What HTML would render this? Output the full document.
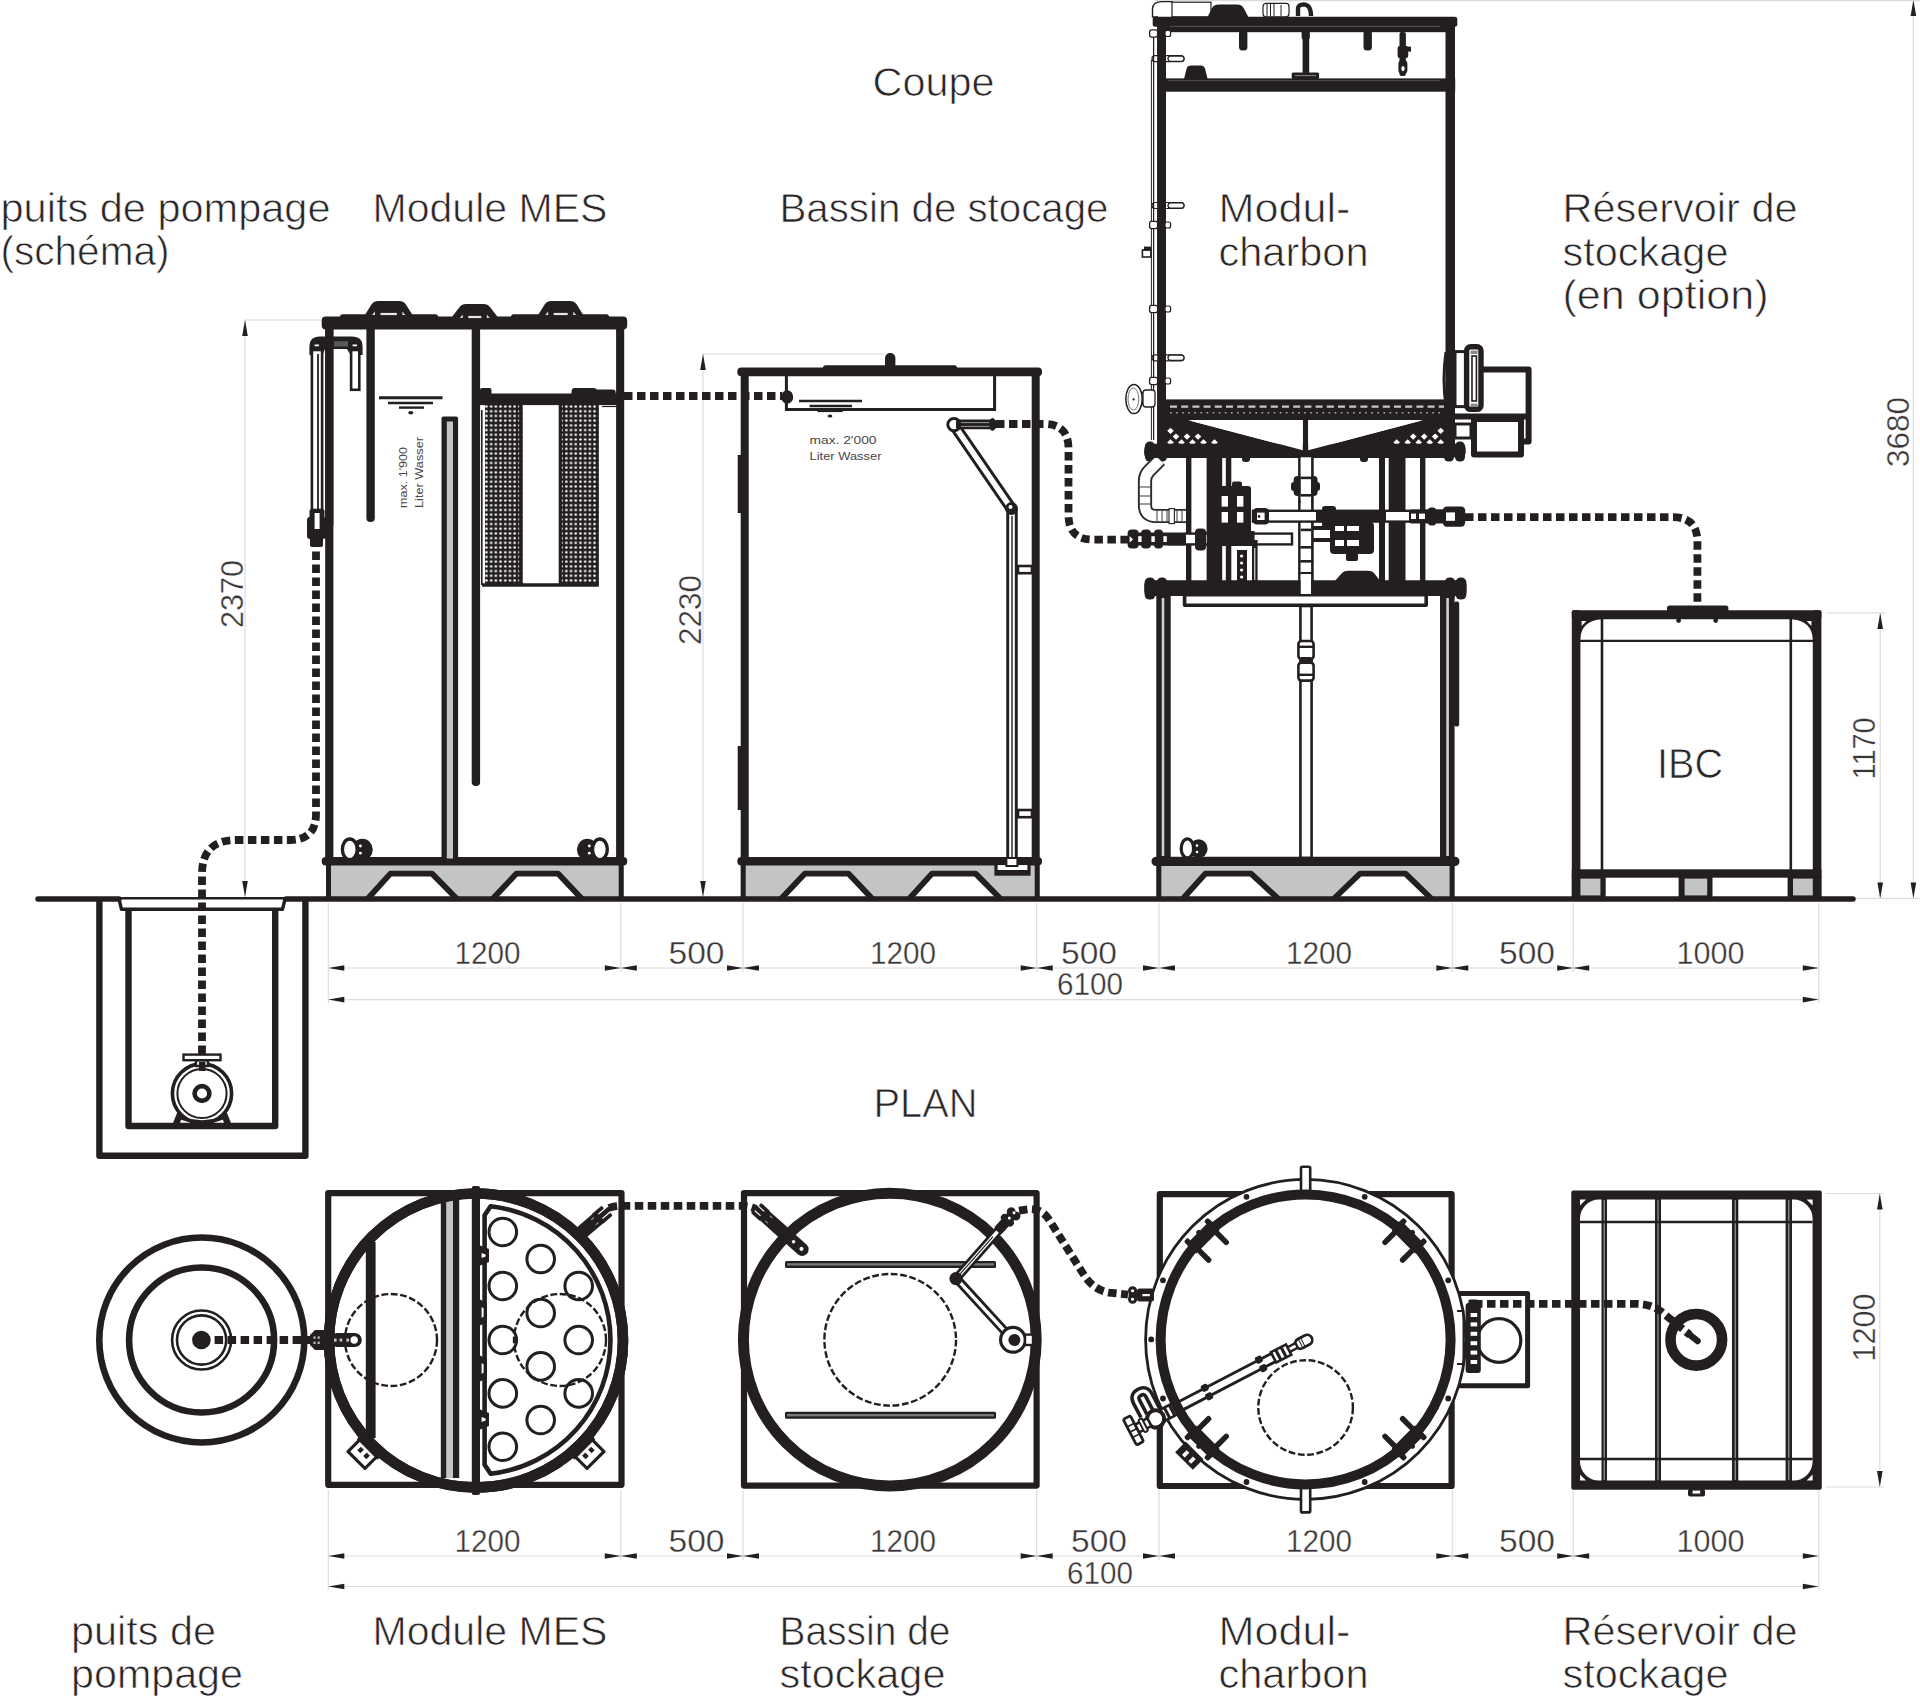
<!DOCTYPE html>
<html lang="fr"><head><meta charset="utf-8"><title>Coupe / Plan</title>
<style>
html,body{margin:0;padding:0;background:#fff}
svg{display:block}
text{font-family:"Liberation Sans",sans-serif;fill:#231f20}
.lbl{font-size:41px;fill:#2a2627;stroke:#fff;stroke-width:.75px}
.dim{font-size:31.5px;fill:#3a3637;stroke:#fff;stroke-width:.35px}
.k{fill:#231f20}
.s{fill:none;stroke:#231f20}
.w{fill:#fff;stroke:#231f20}
.g{fill:#c3c4c6;stroke:#231f20}
.dot{fill:none;stroke:#231f20;stroke-width:7.8;stroke-dasharray:8.5 4.5}
.dl{stroke:#dcdcdc;stroke-width:1.2;fill:none}
</style></head><body>
<svg width="1920" height="1702" viewBox="0 0 1920 1702">
<defs>
<pattern id="mesh" width="4.7" height="4.7" patternUnits="userSpaceOnUse"><rect width="4.7" height="4.7" fill="#231f20"/><circle cx="2.35" cy="2.35" r="1.25" fill="#fff"/></pattern>
</defs>
<rect width="1920" height="1702" fill="#fff"/>
<text class="lbl" x="872.5" y="96" textLength="122" lengthAdjust="spacingAndGlyphs">Coupe</text>
<text class="lbl" x="0.5" y="222" textLength="330" lengthAdjust="spacingAndGlyphs">puits de pompage</text>
<text class="lbl" x="0.5" y="265" textLength="169" lengthAdjust="spacingAndGlyphs">(schéma)</text>
<text class="lbl" x="372.5" y="222" textLength="235" lengthAdjust="spacingAndGlyphs">Module MES</text>
<text class="lbl" x="779.5" y="222" textLength="329" lengthAdjust="spacingAndGlyphs">Bassin de stocage</text>
<text class="lbl" x="1218.5" y="222" textLength="132" lengthAdjust="spacingAndGlyphs">Modul-</text>
<text class="lbl" x="1218.5" y="265.5" textLength="150" lengthAdjust="spacingAndGlyphs">charbon</text>
<text class="lbl" x="1562.5" y="222" textLength="235" lengthAdjust="spacingAndGlyphs">Réservoir de</text>
<text class="lbl" x="1562.5" y="265.5" textLength="166" lengthAdjust="spacingAndGlyphs">stockage</text>
<text class="lbl" x="1562.5" y="309" textLength="206" lengthAdjust="spacingAndGlyphs">(en option)</text>
<text class="lbl" x="873.5" y="1117" textLength="104" lengthAdjust="spacingAndGlyphs">PLAN</text>
<text class="lbl" x="1657.0" y="777.6" textLength="66" lengthAdjust="spacingAndGlyphs" style="font-size:43px">IBC</text>
<text class="lbl" x="71.0" y="1645" textLength="145" lengthAdjust="spacingAndGlyphs">puits de</text>
<text class="lbl" x="71.0" y="1688" textLength="172" lengthAdjust="spacingAndGlyphs">pompage</text>
<text class="lbl" x="372.5" y="1645" textLength="235" lengthAdjust="spacingAndGlyphs">Module MES</text>
<text class="lbl" x="779.5" y="1645" textLength="171" lengthAdjust="spacingAndGlyphs">Bassin de</text>
<text class="lbl" x="779.5" y="1688" textLength="166" lengthAdjust="spacingAndGlyphs">stockage</text>
<text class="lbl" x="1218.5" y="1645" textLength="132" lengthAdjust="spacingAndGlyphs">Modul-</text>
<text class="lbl" x="1218.5" y="1688" textLength="150" lengthAdjust="spacingAndGlyphs">charbon</text>
<text class="lbl" x="1562.5" y="1645" textLength="235" lengthAdjust="spacingAndGlyphs">Réservoir de</text>
<text class="lbl" x="1562.5" y="1688" textLength="166" lengthAdjust="spacingAndGlyphs">stockage</text>
<line class="dl" x1="328.3" y1="903" x2="328.3" y2="1003"/>
<line class="dl" x1="620.8" y1="903" x2="620.8" y2="972"/>
<line class="dl" x1="743" y1="903" x2="743" y2="972"/>
<line class="dl" x1="1036.7" y1="903" x2="1036.7" y2="972"/>
<line class="dl" x1="1159" y1="903" x2="1159" y2="972"/>
<line class="dl" x1="1452.3" y1="903" x2="1452.3" y2="972"/>
<line class="dl" x1="1573.2" y1="903" x2="1573.2" y2="972"/>
<line class="dl" x1="1818.8" y1="903" x2="1818.8" y2="1003"/>
<line class="dl" x1="328.3" y1="968" x2="1818.8" y2="968"/>
<line class="dl" x1="328.3" y1="999.6" x2="1818.8" y2="999.6"/>
<polygon class="k" points="328.3,968.0 344.3,965.2 344.3,970.8"/>
<polygon class="k" points="620.8,968.0 604.8,965.2 604.8,970.8"/>
<polygon class="k" points="620.8,968.0 636.8,965.2 636.8,970.8"/>
<polygon class="k" points="743.0,968.0 727.0,965.2 727.0,970.8"/>
<polygon class="k" points="743.0,968.0 759.0,965.2 759.0,970.8"/>
<polygon class="k" points="1036.7,968.0 1020.7,965.2 1020.7,970.8"/>
<polygon class="k" points="1036.7,968.0 1052.7,965.2 1052.7,970.8"/>
<polygon class="k" points="1159.0,968.0 1143.0,965.2 1143.0,970.8"/>
<polygon class="k" points="1159.0,968.0 1175.0,965.2 1175.0,970.8"/>
<polygon class="k" points="1452.3,968.0 1436.3,965.2 1436.3,970.8"/>
<polygon class="k" points="1452.3,968.0 1468.3,965.2 1468.3,970.8"/>
<polygon class="k" points="1573.2,968.0 1557.2,965.2 1557.2,970.8"/>
<polygon class="k" points="1573.2,968.0 1589.2,965.2 1589.2,970.8"/>
<polygon class="k" points="1818.8,968.0 1802.8,965.2 1802.8,970.8"/>
<polygon class="k" points="328.3,999.6 344.3,996.8 344.3,1002.4"/>
<polygon class="k" points="1818.8,999.6 1802.8,996.8 1802.8,1002.4"/>
<text class="dim" x="487.5" y="964" text-anchor="middle" textLength="66" lengthAdjust="spacingAndGlyphs">1200</text>
<text class="dim" x="696.5" y="964" text-anchor="middle" textLength="56" lengthAdjust="spacingAndGlyphs">500</text>
<text class="dim" x="903" y="964" text-anchor="middle" textLength="66" lengthAdjust="spacingAndGlyphs">1200</text>
<text class="dim" x="1089" y="964" text-anchor="middle" textLength="56" lengthAdjust="spacingAndGlyphs">500</text>
<text class="dim" x="1319" y="964" text-anchor="middle" textLength="66" lengthAdjust="spacingAndGlyphs">1200</text>
<text class="dim" x="1527" y="964" text-anchor="middle" textLength="56" lengthAdjust="spacingAndGlyphs">500</text>
<text class="dim" x="1710.5" y="964" text-anchor="middle" textLength="68" lengthAdjust="spacingAndGlyphs">1000</text>
<text class="dim" x="1090" y="995.4" text-anchor="middle" textLength="66" lengthAdjust="spacingAndGlyphs">6100</text>
<line class="dl" x1="328.3" y1="1490" x2="328.3" y2="1590"/>
<line class="dl" x1="620.8" y1="1490" x2="620.8" y2="1560"/>
<line class="dl" x1="743" y1="1490" x2="743" y2="1560"/>
<line class="dl" x1="1036.7" y1="1490" x2="1036.7" y2="1560"/>
<line class="dl" x1="1159" y1="1490" x2="1159" y2="1560"/>
<line class="dl" x1="1452.3" y1="1490" x2="1452.3" y2="1560"/>
<line class="dl" x1="1573.2" y1="1490" x2="1573.2" y2="1560"/>
<line class="dl" x1="1818.8" y1="1490" x2="1818.8" y2="1590"/>
<line class="dl" x1="328.3" y1="1556" x2="1818.8" y2="1556"/>
<line class="dl" x1="328.3" y1="1586.5" x2="1818.8" y2="1586.5"/>
<polygon class="k" points="328.3,1556.0 344.3,1553.2 344.3,1558.8"/>
<polygon class="k" points="620.8,1556.0 604.8,1553.2 604.8,1558.8"/>
<polygon class="k" points="620.8,1556.0 636.8,1553.2 636.8,1558.8"/>
<polygon class="k" points="743.0,1556.0 727.0,1553.2 727.0,1558.8"/>
<polygon class="k" points="743.0,1556.0 759.0,1553.2 759.0,1558.8"/>
<polygon class="k" points="1036.7,1556.0 1020.7,1553.2 1020.7,1558.8"/>
<polygon class="k" points="1036.7,1556.0 1052.7,1553.2 1052.7,1558.8"/>
<polygon class="k" points="1159.0,1556.0 1143.0,1553.2 1143.0,1558.8"/>
<polygon class="k" points="1159.0,1556.0 1175.0,1553.2 1175.0,1558.8"/>
<polygon class="k" points="1452.3,1556.0 1436.3,1553.2 1436.3,1558.8"/>
<polygon class="k" points="1452.3,1556.0 1468.3,1553.2 1468.3,1558.8"/>
<polygon class="k" points="1573.2,1556.0 1557.2,1553.2 1557.2,1558.8"/>
<polygon class="k" points="1573.2,1556.0 1589.2,1553.2 1589.2,1558.8"/>
<polygon class="k" points="1818.8,1556.0 1802.8,1553.2 1802.8,1558.8"/>
<polygon class="k" points="328.3,1586.5 344.3,1583.7 344.3,1589.3"/>
<polygon class="k" points="1818.8,1586.5 1802.8,1583.7 1802.8,1589.3"/>
<text class="dim" x="487.5" y="1551.5" text-anchor="middle" textLength="66" lengthAdjust="spacingAndGlyphs">1200</text>
<text class="dim" x="696.5" y="1551.5" text-anchor="middle" textLength="56" lengthAdjust="spacingAndGlyphs">500</text>
<text class="dim" x="903" y="1551.5" text-anchor="middle" textLength="66" lengthAdjust="spacingAndGlyphs">1200</text>
<text class="dim" x="1099" y="1551.5" text-anchor="middle" textLength="56" lengthAdjust="spacingAndGlyphs">500</text>
<text class="dim" x="1319" y="1551.5" text-anchor="middle" textLength="66" lengthAdjust="spacingAndGlyphs">1200</text>
<text class="dim" x="1527" y="1551.5" text-anchor="middle" textLength="56" lengthAdjust="spacingAndGlyphs">500</text>
<text class="dim" x="1710.5" y="1551.5" text-anchor="middle" textLength="68" lengthAdjust="spacingAndGlyphs">1000</text>
<text class="dim" x="1100" y="1584" text-anchor="middle" textLength="66" lengthAdjust="spacingAndGlyphs">6100</text>
<line class="dl" x1="245" y1="320" x2="322" y2="320"/>
<line class="dl" x1="245" y1="320" x2="245" y2="897"/>
<polygon class="k" points="245.0,320.0 242.2,336.0 247.8,336.0"/>
<polygon class="k" points="245.0,897.0 242.2,881.0 247.8,881.0"/>
<text class="dim" text-anchor="middle" textLength="68" lengthAdjust="spacingAndGlyphs" transform="translate(243,594) rotate(-90)" x="0" y="0">2370</text>
<line class="dl" x1="703" y1="354" x2="885" y2="354"/>
<line class="dl" x1="703" y1="354" x2="703" y2="897"/>
<polygon class="k" points="703.0,354.0 700.2,370.0 705.8,370.0"/>
<polygon class="k" points="703.0,897.0 700.2,881.0 705.8,881.0"/>
<text class="dim" text-anchor="middle" textLength="70" lengthAdjust="spacingAndGlyphs" transform="translate(701,610) rotate(-90)" x="0" y="0">2230</text>
<line class="dl" x1="1827" y1="612.9" x2="1885" y2="612.9"/>
<line class="dl" x1="1856" y1="898.4" x2="1920" y2="898.4"/>
<line class="dl" x1="1880.2" y1="612.9" x2="1880.2" y2="898.4"/>
<polygon class="k" points="1880.2,612.9 1877.4,628.9 1883.0,628.9"/>
<polygon class="k" points="1880.2,898.4 1877.4,882.4 1883.0,882.4"/>
<text class="dim" text-anchor="middle" textLength="62" lengthAdjust="spacingAndGlyphs" transform="translate(1875,748.5) rotate(-90)" x="0" y="0">1170</text>
<line class="dl" x1="1155" y1="0.6" x2="1920" y2="0.6"/>
<line class="dl" x1="1913.4" y1="0" x2="1913.4" y2="898.4"/>
<polygon class="k" points="1913.4,0.0 1910.6,16.0 1916.2,16.0"/>
<polygon class="k" points="1913.4,898.4 1910.6,882.4 1916.2,882.4"/>
<text class="dim" text-anchor="middle" textLength="70" lengthAdjust="spacingAndGlyphs" transform="translate(1909,432) rotate(-90)" x="0" y="0">3680</text>
<line class="dl" x1="1826" y1="1193.5" x2="1884" y2="1193.5"/>
<line class="dl" x1="1826" y1="1487" x2="1884" y2="1487"/>
<line class="dl" x1="1879.8" y1="1193.5" x2="1879.8" y2="1487"/>
<polygon class="k" points="1879.8,1193.5 1877.0,1209.5 1882.6,1209.5"/>
<polygon class="k" points="1879.8,1487.0 1877.0,1471.0 1882.6,1471.0"/>
<text class="dim" text-anchor="middle" textLength="68" lengthAdjust="spacingAndGlyphs" transform="translate(1875,1327.5) rotate(-90)" x="0" y="0">1200</text>
<path class="s" d="M99.4,899 L99.4,1155.7 L305.4,1155.7 L305.4,899" stroke-width="6.4" stroke-linejoin="round"/>
<path class="s" d="M128.5,909 L128.5,1126 L275.2,1126 L275.2,909" stroke-width="6.4" stroke-linejoin="round"/>
<path class="s" d="M118,898.2 L287,898.2" stroke-width="2.6"/>
<path class="s" d="M119,899 L121.5,909.3 L282.5,909.3 L285,899" stroke-width="3.4" stroke-linejoin="round"/>
<path class="k" d="M173,1123 L181,1103 L186,1105 L180,1123 Z M231,1123 L223,1103 L218,1105 L224,1123 Z"/>
<circle class="w" cx="202" cy="1093.5" r="29.6" stroke-width="3.6"/>
<circle class="s" cx="202" cy="1093.5" r="24.6" stroke-width="2"/>
<path class="s" d="M181,1118 A62 62 0 0 0 223,1118" stroke-width="3"/>
<circle class="s" cx="202" cy="1093.5" r="7.4" stroke-width="4.6"/>
<rect class="w" x="183.5" y="1054.6" width="37.0" height="5.6" stroke-width="2.4"/>
<rect class="w" x="196.0" y="1060.5" width="12.0" height="5.5" stroke-width="2.4"/>
<rect class="k" x="199.0" y="1062.0" width="6.5" height="9.0"/>
<path class="dot" d="M202,1054 L202,874 Q202,840 236,840 L290,840 Q316,840 316,814 L316,541"/>
<rect class="k" x="326.0" y="865.0" width="297.7" height="32.0" style="fill:#c3c4c6"/>
<rect class="k" x="326.0" y="865.0" width="5.0" height="34.0"/>
<rect class="k" x="618.7" y="865.0" width="5.0" height="34.0"/>
<path class="w" d="M367.5,899 L390.4,873.6 L432,873.6 L457,899" stroke-width="5.8" stroke-linejoin="round"/>
<path class="w" d="M492.5,899 L516.5,873.6 L558,873.6 L582,899" stroke-width="5.8" stroke-linejoin="round"/>
<rect class="k" x="321.7" y="857.0" width="305.5" height="8.6" rx="4"/>
<rect class="k" x="325.2" y="325.0" width="8.2" height="536.0"/>
<rect class="k" x="616.1" y="325.0" width="8.1" height="536.0"/>
<rect class="k" x="471.7" y="325.0" width="8.4" height="461.0" rx="4"/>
<rect class="k" x="366.4" y="325.0" width="8.4" height="197.0" rx="4"/>
<rect class="k" x="321.7" y="316.6" width="305.5" height="13.0" rx="4"/>
<rect class="k" x="340.0" y="314.2" width="98.0" height="6.0" rx="2.5"/>
<rect class="k" x="511.0" y="314.2" width="98.0" height="6.0" rx="2.5"/>
<path class="k" d="M363,320 L372.6,304.6 Q374.6,302 378,302 L399.4,302 Q402.79999999999995,302 404.79999999999995,304.6 L414.4,320 Z" stroke="#231f20" stroke-width="2" stroke-linejoin="round"/>
<path class="s" d="M380.5,314 L396.9,314" stroke-width="2.2" style="stroke:#e8e8e8"/>
<path class="k" d="M372,315 L375,311.4 L375,315 Z M405.4,315 L402.4,311.4 L402.4,315 Z" style="fill:#ddd"/>
<path class="k" d="M450.8,320 L460.40000000000003,307.6 Q462.40000000000003,305 465.8,305 L483.8,305 Q487.2,305 489.2,307.6 L498.8,320 Z" stroke="#231f20" stroke-width="2" stroke-linejoin="round"/>
<path class="s" d="M468.3,317 L481.3,317" stroke-width="2.2" style="stroke:#e8e8e8"/>
<path class="k" d="M459.8,318 L462.8,314.4 L462.8,318 Z M489.8,318 L486.8,314.4 L486.8,318 Z" style="fill:#ddd"/>
<path class="k" d="M536.2,320 L545.8000000000001,304.6 Q547.8000000000001,302 551.2,302 L570.2,302 Q573.6,302 575.6,304.6 L585.2,320 Z" stroke="#231f20" stroke-width="2" stroke-linejoin="round"/>
<path class="s" d="M553.7,314 L567.7,314" stroke-width="2.2" style="stroke:#e8e8e8"/>
<path class="k" d="M545.2,315 L548.2,311.4 L548.2,315 Z M576.2,315 L573.2,311.4 L573.2,315 Z" style="fill:#ddd"/>
<rect class="k" x="441.5" y="416.5" width="16.6" height="444.0" rx="2"/>
<rect class="k" x="446.8" y="421.5" width="6.2" height="437.0" style="fill:#c3c4c6"/>
<rect class="k" x="480.0" y="393.5" width="137.0" height="11.6"/>
<rect class="k" x="480.0" y="388.0" width="11.5" height="8.0" rx="2"/>
<rect class="k" x="571.7" y="388.0" width="25.0" height="8.0" rx="3"/>
<rect class="k" x="485.0" y="405.0" width="37.7" height="180.0" style="fill:url(#mesh)"/>
<rect class="k" x="559.0" y="405.0" width="39.7" height="180.0" style="fill:url(#mesh)"/>
<path class="s" d="M482,585 L598.7,585" stroke-width="3.4"/>
<path class="s" d="M520.7,405 L520.7,585 M560.3,405 L560.3,585" stroke-width="3.2"/>
<path class="s" d="M481.8,410 L481.8,585" stroke-width="1.6"/>
<path class="s" d="M597.5,405 L597.5,586" stroke-width="2.4"/>
<path class="s" d="M602,406.5 L616,406.5" stroke-width="1.2"/>
<path class="s" d="M379,397.7 L442.5,397.7" stroke-width="3"/>
<path class="s" d="M388,403 L433,403" stroke-width="2.6"/>
<path class="s" d="M399,407.6 L424,407.6" stroke-width="2.4"/>
<ellipse class="k" cx="410.8" cy="412.8" rx="2.6" ry="1.8"/>
<text transform="translate(407,508) rotate(-90)" style="font-size:11px;fill:#4a4647" textLength="61" lengthAdjust="spacingAndGlyphs">max. 1'900</text>
<text transform="translate(422.5,508) rotate(-90)" style="font-size:11px;fill:#4a4647" textLength="71" lengthAdjust="spacingAndGlyphs">Liter Wasser</text>
<rect class="w" x="311.9" y="350.0" width="10.2" height="160.0" stroke-width="2.6"/>
<path class="s" d="M318,354 L318,509" stroke-width="1.8"/>
<rect class="w" x="351.1" y="350.0" width="8.2" height="39.8" stroke-width="2.6"/>
<rect class="k" x="325.2" y="325.0" width="8.2" height="200.0"/>
<path class="k" d="M309.4,355 L309.4,347 Q309.4,336.6 320,336.6 L352,336.6 Q362.6,336.6 362.6,347 L362.6,355 L358,355 L358,350.6 Q358,349 356,349 L352,349 Q349.8,349 349.8,351 L349.8,354 L347,349 L325,349 L322.6,355 L322.6,351 Q322.6,349 320.6,349 L315,349 Q313,349 313,351 L313,355 Z"/>
<rect class="k" x="334.0" y="341.2" width="14.0" height="5.4" style="fill:#58595b"/>
<path class="s" d="M314.6,345.4 L319,345.4 M352.6,345.4 L357,345.4" stroke-width="1.6" style="stroke:#fff"/>
<rect class="k" x="309.5" y="509.0" width="15.0" height="10.0" rx="2"/>
<rect class="k" x="307.0" y="517.0" width="19.0" height="22.0" rx="3"/>
<rect class="k" x="310.0" y="537.0" width="13.0" height="10.0" rx="2"/>
<rect class="k" x="314.6" y="513.0" width="5.0" height="16.0" style="fill:#fff"/>
<ellipse class="k" cx="362.40000000000003" cy="849.6" rx="10.4" ry="10.8"/>
<circle class="k" cx="360.40000000000003" cy="846" r="1.4" style="fill:#fff"/>
<circle class="k" cx="360.40000000000003" cy="853.2" r="1.4" style="fill:#fff"/>
<ellipse class="w" cx="349.8" cy="849.4" rx="7.4" ry="10.4" stroke-width="3.4"/>
<ellipse class="k" cx="587.3" cy="849.6" rx="10.4" ry="10.8"/>
<circle class="k" cx="589.3" cy="846" r="1.4" style="fill:#fff"/>
<circle class="k" cx="589.3" cy="853.2" r="1.4" style="fill:#fff"/>
<ellipse class="w" cx="599.9" cy="849.4" rx="7.4" ry="10.4" stroke-width="3.4"/>
<rect class="k" x="740.7" y="865.0" width="299.0" height="32.0" style="fill:#c3c4c6"/>
<rect class="k" x="740.7" y="865.0" width="5.0" height="34.0"/>
<rect class="k" x="1034.7" y="865.0" width="5.0" height="34.0"/>
<path class="w" d="M780.8,899 L805,873.6 L848.4,873.6 L872.5,899" stroke-width="5.8" stroke-linejoin="round"/>
<path class="w" d="M909,899 L932,873.6 L975.6,873.6 L1000.8,899" stroke-width="5.8" stroke-linejoin="round"/>
<rect class="k" x="737.3" y="857.0" width="304.7" height="8.4" rx="4"/>
<rect class="k" x="740.7" y="372.0" width="8.0" height="489.0"/>
<rect class="k" x="1031.7" y="372.0" width="8.0" height="489.0"/>
<rect class="k" x="737.7" y="455.0" width="3.5" height="58.0"/>
<rect class="k" x="737.7" y="746.0" width="3.5" height="64.0"/>
<rect class="k" x="737.3" y="367.6" width="304.7" height="8.6" rx="4"/>
<rect class="k" x="823.0" y="365.2" width="134.0" height="5.0" rx="2.5"/>
<rect class="k" x="885.0" y="353.0" width="10.4" height="17.0" rx="5"/>
<path class="s" d="M786.4,376 L786.4,409.6 L994.6,409.6 L994.6,376" stroke-width="3"/>
<ellipse class="k" cx="787.2" cy="397" rx="6" ry="6.8"/>
<path class="s" d="M799,401 L862,401" stroke-width="2.6"/>
<path class="s" d="M809.5,406 L852,406" stroke-width="2.4"/>
<path class="s" d="M817.5,410.6 L842.7,410.6" stroke-width="3"/>
<ellipse class="k" cx="830" cy="416" rx="2.4" ry="1.6"/>
<text x="809.5" y="443.5" style="font-size:11px;fill:#4a4647" textLength="67" lengthAdjust="spacingAndGlyphs">max. 2'000</text>
<text x="809.5" y="459.5" style="font-size:11px;fill:#4a4647" textLength="72" lengthAdjust="spacingAndGlyphs">Liter Wasser</text>
<path class="s" d="M954,425 L1012,509.5 L1012,862" stroke-width="11.5" stroke-linejoin="round" stroke-linecap="round"/>
<path class="s" d="M954,425 L1012,509.5 L1012,862" stroke-width="5.6" style="stroke:#fff" stroke-linejoin="round"/>
<path class="s" d="M1012,516 L1012,862" stroke-width="1.4"/>
<circle class="w" cx="954" cy="424.6" r="6.2" stroke-width="3"/>
<circle class="k" cx="1011.5" cy="508.5" r="6.4"/>
<circle class="k" cx="1010.5" cy="507" r="2" style="fill:#fff"/>
<rect class="k" x="956.0" y="419.6" width="40.0" height="9.6" rx="2"/>
<path class="s" d="M961,422.6 L991,422.6 M961,426.4 L991,426.4" stroke-width="1" style="stroke:#9a9a9c"/>
<ellipse class="k" cx="992.5" cy="424.4" rx="3.4" ry="6.4"/>
<rect class="w" x="1018.0" y="566.0" width="14.0" height="7.2" stroke-width="2.6"/>
<rect class="w" x="1018.0" y="810.0" width="14.0" height="7.2" stroke-width="2.6"/>
<rect class="w" x="996.0" y="863.5" width="33.0" height="10.6" stroke-width="3.2"/>
<rect class="k" x="995.0" y="870.0" width="35.0" height="4.6"/>
<rect class="w" x="1006.4" y="858.0" width="11.0" height="8.0" stroke-width="2"/>
<path class="dot" d="M624,396 L782,396"/>
<rect class="k" x="571.7" y="389.5" width="44.0" height="7.5" rx="3"/>
<path class="dot" d="M996,424 L1044,424 Q1068.5,424 1068.5,448.5 L1068.5,515 Q1068.5,539.6 1093,539.6 L1128,539.6"/>
<path class="s" d="M1158,17 L1152.5,17 L1152.5,9 Q1152.5,1.6 1162,1.6 L1172,1.6 Q1175.5,9 1172,16.8" stroke-width="1.4"/>
<rect class="w" x="1172.0" y="2.2" width="39.0" height="14.6" stroke-width="1.2"/>
<path class="k" d="M1207.6,17 L1212,8 Q1214,4.6 1219,4.6 L1237,4.6 Q1241.6,4.6 1243.6,8 L1248.4,17 Z"/>
<rect class="w" x="1263.0" y="3.4" width="26.0" height="13.4" rx="3" stroke-width="1.2"/>
<path class="s" d="M1267,4 L1267,16 M1270.5,4 L1270.5,16 M1274,4 L1274,16 M1281,5 L1281,16" stroke-width="1"/>
<path class="s" d="M1298,16 L1298,9 Q1298,4.4 1304,4.4 Q1311,5 1311,16" stroke-width="4.4"/>
<rect class="k" x="1157.2" y="20.0" width="8.8" height="424.0"/>
<rect class="k" x="1445.5" y="20.0" width="9.5" height="424.0"/>
<rect class="k" x="1152.7" y="16.8" width="304.6" height="10.0" rx="2.5"/>
<rect class="k" x="1160.0" y="25.0" width="290.0" height="7.2"/>
<path class="s" d="M1170,26.4 L1440,26.4" stroke-width="1" style="stroke:#555"/>
<rect class="k" x="1157.2" y="78.4" width="298.0" height="13.3"/>
<path class="s" d="M1168,80.6 L1440,80.6" stroke-width="1" style="stroke:#4a4a4a"/>
<rect class="k" x="1239.0" y="30.0" width="8.4" height="20.6" rx="3.5"/>
<rect class="k" x="1363.5" y="30.0" width="8.4" height="20.6" rx="3.5"/>
<rect class="k" x="1302.6" y="30.0" width="6.6" height="44.0" rx="2"/>
<rect class="k" x="1291.7" y="72.6" width="27.4" height="6.4" rx="1.5"/>
<path class="s" d="M1295,75.6 L1316,75.6" stroke-width="1" style="stroke:#8a8a8a"/>
<rect class="k" x="1301.6" y="28.0" width="8.2" height="12.0" rx="3"/>
<rect class="k" x="1399.5" y="32.0" width="6.4" height="44.0" rx="2"/>
<rect class="k" x="1397.6" y="46.0" width="10.6" height="12.0" rx="2"/>
<rect class="k" x="1398.4" y="60.0" width="9.0" height="14.0" rx="4"/>
<ellipse class="k" cx="1403" cy="68.6" rx="1.7" ry="2.6" style="fill:#fff"/>
<rect class="k" x="1406.0" y="46.6" width="5.0" height="5.0"/>
<path class="k" d="M1184,79 L1186.6,68.6 Q1187.5,65.4 1191,65.4 L1200.6,65.4 Q1204,65.4 1205,68.6 L1207.6,79 Z"/>
<rect class="w" x="1152.0" y="55.7" width="32.0" height="6.0" rx="3" stroke-width="1.2"/>
<rect class="w" x="1168.0" y="56.1" width="16.0" height="5.2" rx="2.6" stroke-width="1.2"/>
<rect class="w" x="1152.0" y="202.5" width="32.0" height="6.0" rx="3" stroke-width="1.2"/>
<rect class="w" x="1168.0" y="202.9" width="16.0" height="5.2" rx="2.6" stroke-width="1.2"/>
<rect class="w" x="1152.0" y="354.8" width="32.0" height="6.0" rx="3" stroke-width="1.2"/>
<rect class="w" x="1168.0" y="355.2" width="16.0" height="5.2" rx="2.6" stroke-width="1.2"/>
<path class="s" d="M1153.6,30 L1153.6,440" stroke-width="1.2"/>
<path class="s" d="M1151.4,60 L1151.4,440" stroke-width="1"/>
<rect class="w" x="1149.6" y="29.9" width="8.0" height="7.2" rx="2" stroke-width="1.3"/>
<rect class="w" x="1149.6" y="221.4" width="8.0" height="7.2" rx="2" stroke-width="1.3"/>
<rect class="w" x="1149.6" y="305.4" width="8.0" height="7.2" rx="2" stroke-width="1.3"/>
<rect class="w" x="1149.6" y="377.4" width="8.0" height="7.2" rx="2" stroke-width="1.3"/>
<rect class="w" x="1142.4" y="250.0" width="8.5" height="7.0" stroke-width="1.6"/>
<rect class="k" x="1144.0" y="246.6" width="7.0" height="4.0"/>
<rect class="k" x="1157.2" y="20.0" width="8.8" height="424.0"/>
<rect class="w" x="1165.0" y="30.5" width="5.6" height="6.0" rx="2" stroke-width="1.2"/>
<rect class="w" x="1165.0" y="222.0" width="5.6" height="6.0" rx="2" stroke-width="1.2"/>
<rect class="w" x="1165.0" y="306.0" width="5.6" height="6.0" rx="2" stroke-width="1.2"/>
<rect class="w" x="1165.0" y="378.0" width="5.6" height="6.0" rx="2" stroke-width="1.2"/>
<ellipse class="w" cx="1139" cy="398.4" rx="5" ry="7.6" stroke-width="1.3"/>
<ellipse class="w" cx="1134" cy="399" rx="8.2" ry="14.6" stroke-width="1.5"/>
<ellipse class="s" cx="1133.4" cy="399" rx="5.4" ry="11" stroke-width="1" style="stroke:#777"/>
<circle class="k" cx="1133.6" cy="399.4" r="1.1"/>
<rect class="w" x="1143.0" y="390.0" width="12.0" height="17.0" rx="3" stroke-width="1.3"/>
<rect class="k" x="1160.0" y="399.4" width="290.0" height="20.6"/>
<path class="s" d="M1170,406.6 L1444,406.6" stroke-width="2.2" style="stroke:#c9c9c9" stroke-dasharray="7 4.2"/>
<path class="s" d="M1170,412.8 L1444,412.8" stroke-width="1.5" style="stroke:#b0b0b0" stroke-dasharray="1.6 4.5"/>
<path class="k" d="M1160,419 L1188,420 L1302.8,450.4 L1308.2,450.4 L1423,420 L1451,419 L1451,458 L1160,458 Z"/>
<rect class="k" x="1302.8" y="419.0" width="5.4" height="34.0"/>
<path class="k" d="M1167.2,442.4 L1170.5,439.3 L1173.8,442.4 L1170.5,445.5 Z M1178.2,442.4 L1181.5,439.3 L1184.8,442.4 L1181.5,445.5 Z M1189.2,442.4 L1192.5,439.3 L1195.8,442.4 L1192.5,445.5 Z M1200.2,442.4 L1203.5,439.3 L1206.8,442.4 L1203.5,445.5 Z M1211.2,442.4 L1214.5,439.3 L1217.8,442.4 L1214.5,445.5 Z M1172.7,436.6 L1176.0,433.5 L1179.3,436.6 L1176.0,439.7 Z M1183.7,436.6 L1187.0,433.5 L1190.3,436.6 L1187.0,439.7 Z M1194.7,436.6 L1198.0,433.5 L1201.3,436.6 L1198.0,439.7 Z M1167.2,430.8 L1170.5,427.7 L1173.8,430.8 L1170.5,433.9 Z" style="fill:#fff"/>
<path class="k" d="M1437.4,442.4 L1440.7,439.3 L1444.0,442.4 L1440.7,445.5 Z M1426.4,442.4 L1429.7,439.3 L1433.0,442.4 L1429.7,445.5 Z M1415.4,442.4 L1418.7,439.3 L1422.0,442.4 L1418.7,445.5 Z M1404.4,442.4 L1407.7,439.3 L1411.0,442.4 L1407.7,445.5 Z M1393.4,442.4 L1396.7,439.3 L1400.0,442.4 L1396.7,445.5 Z M1431.9,436.6 L1435.2,433.5 L1438.5,436.6 L1435.2,439.7 Z M1420.9,436.6 L1424.2,433.5 L1427.5,436.6 L1424.2,439.7 Z M1409.9,436.6 L1413.2,433.5 L1416.5,436.6 L1413.2,439.7 Z M1437.4,430.8 L1440.7,427.7 L1444.0,430.8 L1440.7,433.9 Z" style="fill:#fff"/>
<rect class="k" x="1144.3" y="443.7" width="321.4" height="13.6" rx="5"/>
<rect class="k" x="1145.0" y="441.6" width="10.0" height="20.0" rx="4.5"/>
<rect class="k" x="1157.0" y="441.6" width="10.0" height="20.0" rx="4.5"/>
<rect class="k" x="1444.0" y="441.6" width="10.0" height="20.0" rx="4.5"/>
<rect class="k" x="1455.0" y="441.6" width="10.0" height="20.0" rx="4.5"/>
<rect class="k" x="1242.0" y="455.0" width="8.0" height="7.0" rx="3"/>
<rect class="k" x="1360.0" y="455.0" width="8.0" height="7.0" rx="3"/>
<path class="k" d="M1189,420.4 L1302.8,420.4 L1302.8,450.2 Z M1422,420.4 L1308.2,420.4 L1308.2,450.2 Z" style="fill:#fff"/>
<rect class="k" x="1186.0" y="456.0" width="5.4" height="126.0"/>
<rect class="k" x="1420.0" y="456.0" width="5.4" height="126.0"/>
<rect class="k" x="1206.6" y="456.0" width="15.6" height="126.0"/>
<rect class="k" x="1225.8" y="456.0" width="5.5" height="126.0"/>
<path class="s" d="M1223.6,458 L1223.6,580" stroke-width="1" style="stroke:#fff"/>
<rect class="k" x="1388.7" y="456.0" width="16.8" height="126.0"/>
<rect class="k" x="1379.0" y="456.0" width="6.0" height="126.0"/>
<path class="s" d="M1386.6,458 L1386.6,580" stroke-width="1" style="stroke:#fff"/>
<rect class="w" x="1299.4" y="456.0" width="13.0" height="128.0" stroke-width="2.6"/>
<rect class="k" x="1298.6" y="476.0" width="14.6" height="3.2"/>
<rect class="k" x="1298.6" y="500.0" width="14.6" height="3.2"/>
<rect class="k" x="1298.6" y="519.6" width="14.6" height="3.2"/>
<rect class="k" x="1298.6" y="546.0" width="14.6" height="3.2"/>
<rect class="k" x="1298.6" y="560.0" width="14.6" height="3.2"/>
<rect class="k" x="1298.6" y="572.0" width="14.6" height="3.2"/>
<rect class="k" x="1291.0" y="482.0" width="29.0" height="9.0" rx="3"/>
<rect class="k" x="1293.6" y="476.0" width="24.0" height="20.0" rx="4"/>
<rect class="k" x="1300.8" y="458.0" width="10.2" height="124.0" style="fill:#fff"/>
<rect class="k" x="1300.8" y="476.6" width="10.2" height="2.6"/>
<rect class="k" x="1300.8" y="494.0" width="10.2" height="2.6"/>
<rect class="k" x="1300.8" y="511.0" width="10.2" height="2.6"/>
<rect class="k" x="1300.8" y="528.6" width="10.2" height="2.6"/>
<rect class="k" x="1300.8" y="546.0" width="10.2" height="2.6"/>
<rect class="k" x="1300.8" y="560.0" width="10.2" height="2.6"/>
<rect class="k" x="1300.8" y="572.0" width="10.2" height="2.6"/>
<rect class="w" x="1253.0" y="510.8" width="211.0" height="10.8" stroke-width="2.4"/>
<rect class="k" x="1253.0" y="508.0" width="16.0" height="16.6" rx="4"/>
<rect class="k" x="1257.0" y="512.6" width="7.6" height="7.4" style="fill:#fff"/>
<circle class="k" cx="1259" cy="516.4" r="1.3"/>
<rect class="w" x="1184.0" y="533.6" width="108.0" height="10.8" stroke-width="2.4"/>
<rect class="k" x="1129.0" y="532.6" width="56.0" height="13.0" rx="4"/>
<rect class="k" x="1127.6" y="529.6" width="11.0" height="19.0" rx="4"/>
<rect class="k" x="1141.0" y="529.6" width="10.0" height="19.0" rx="4"/>
<rect class="k" x="1154.0" y="529.6" width="9.0" height="19.0" rx="4"/>
<rect class="k" x="1166.0" y="533.0" width="20.0" height="12.4" rx="3"/>
<rect class="k" x="1195.0" y="528.4" width="11.0" height="22.0" rx="4"/>
<rect class="k" x="1138.2" y="536.2" width="3.4" height="5.8" style="fill:#fff"/>
<rect class="k" x="1151.4" y="536.2" width="3.4" height="5.8" style="fill:#fff"/>
<rect class="k" x="1163.4" y="536.2" width="3.4" height="5.8" style="fill:#fff"/>
<path class="k" d="M1129.6,536 L1133,539.4 L1129.6,542.6 Z" style="fill:#fff"/>
<rect class="k" x="1220.0" y="486.0" width="31.0" height="56.0" rx="3"/>
<rect class="k" x="1232.0" y="481.6" width="10.0" height="8.0" rx="2"/>
<rect class="k" x="1221.6" y="496.0" width="6.4" height="10.6" style="fill:#fff"/>
<rect class="k" x="1237.0" y="496.0" width="6.4" height="10.6" style="fill:#fff"/>
<rect class="k" x="1221.6" y="512.0" width="6.4" height="10.6" style="fill:#fff"/>
<rect class="k" x="1237.0" y="512.0" width="6.4" height="10.6" style="fill:#fff"/>
<rect class="k" x="1206.6" y="531.0" width="48.0" height="15.0"/>
<rect class="k" x="1237.0" y="550.0" width="10.0" height="32.0"/>
<circle class="k" cx="1241.6" cy="556" r="1.6" style="fill:#fff"/>
<circle class="k" cx="1241.6" cy="563" r="1.6" style="fill:#fff"/>
<circle class="k" cx="1241.6" cy="570" r="1.6" style="fill:#fff"/>
<circle class="k" cx="1241.6" cy="577" r="1.6" style="fill:#fff"/>
<rect class="k" x="1252.0" y="540.0" width="5.6" height="42.0"/>
<path class="s" d="M1254.8,548 L1254.8,580" stroke-width="1" style="stroke:#fff"/>
<rect class="k" x="1322.0" y="506.0" width="14.0" height="22.0" rx="3"/>
<rect class="k" x="1316.0" y="512.0" width="70.0" height="9.0"/>
<rect class="k" x="1330.0" y="522.0" width="44.0" height="32.0" rx="4"/>
<rect class="k" x="1366.0" y="530.0" width="8.0" height="14.0" rx="2"/>
<rect class="k" x="1335.0" y="526.0" width="9.0" height="5.0" style="fill:#fff"/>
<rect class="k" x="1347.0" y="526.0" width="12.0" height="5.0" style="fill:#fff"/>
<rect class="k" x="1335.0" y="540.0" width="9.0" height="6.0" style="fill:#fff"/>
<rect class="k" x="1347.0" y="540.0" width="12.0" height="6.0" style="fill:#fff"/>
<rect class="k" x="1346.0" y="553.0" width="12.0" height="8.0" rx="2"/>
<rect class="k" x="1312.0" y="526.0" width="20.0" height="4.0"/>
<rect class="k" x="1312.0" y="538.0" width="20.0" height="4.0"/>
<path class="k" d="M1334,582 L1342,573 Q1344,570.8 1348,570.8 L1368,570.8 Q1372,570.8 1374,573 L1381,582 Z"/>
<rect class="k" x="1409.0" y="509.4" width="55.0" height="14.0" rx="3"/>
<rect class="k" x="1443.0" y="506.4" width="22.0" height="20.4" rx="4"/>
<rect class="k" x="1428.0" y="507.6" width="8.0" height="18.0" rx="3"/>
<rect class="k" x="1446.0" y="512.4" width="9.0" height="8.4" style="fill:#fff"/>
<rect class="k" x="1411.0" y="513.6" width="5.0" height="5.4" style="fill:#fff"/>
<rect class="k" x="1419.0" y="513.6" width="6.0" height="5.4" style="fill:#fff"/>
<path class="s" d="M1392,516.4 L1408,516.4" stroke-width="2" style="stroke:#fff"/>
<path class="dot" d="M1465,517.2 L1673,517.2 Q1697.4,517.2 1697.4,541.6 L1697.4,606"/>
<path class="s" d="M1160,460 L1149,471 Q1145,475 1145,481 L1145,505 Q1145,516 1156,516 L1186,516" stroke-width="14.2" stroke-linejoin="round" style="stroke:#2e2a2b"/>
<path class="s" d="M1160,460 L1149,471 Q1145,475 1145,481 L1145,505 Q1145,516 1156,516 L1186,516" stroke-width="10.4" stroke-linejoin="round" style="stroke:#fff"/>
<path class="s" d="M1139.4,487 L1150.6,487" stroke-width="1" style="stroke:#3a3a3a"/>
<path class="s" d="M1139.4,496 L1150.6,496" stroke-width="1" style="stroke:#3a3a3a"/>
<path class="s" d="M1139.4,504 L1150.6,504" stroke-width="1" style="stroke:#3a3a3a"/>
<path class="s" d="M1157,510.4 L1157,521.6" stroke-width="1" style="stroke:#3a3a3a"/>
<path class="s" d="M1162,510.4 L1162,521.6" stroke-width="1" style="stroke:#3a3a3a"/>
<path class="s" d="M1167,510.4 L1167,521.6" stroke-width="1" style="stroke:#3a3a3a"/>
<path class="s" d="M1177,510.4 L1177,521.6" stroke-width="1" style="stroke:#3a3a3a"/>
<path class="s" d="M1182,510.4 L1182,521.6" stroke-width="1" style="stroke:#3a3a3a"/>
<rect class="w" x="1169.0" y="508.6" width="5.4" height="15.0" stroke-width="1.1"/>
<rect class="k" x="1144.3" y="448.0" width="22.0" height="10.0" rx="4"/>
<rect class="k" x="1144.3" y="580.3" width="322.2" height="15.6" rx="5"/>
<rect class="k" x="1144.6" y="577.6" width="10.8" height="22.0" rx="5"/>
<rect class="k" x="1156.6" y="577.6" width="10.8" height="22.0" rx="5"/>
<rect class="k" x="1444.6" y="577.6" width="10.8" height="22.0" rx="5"/>
<rect class="k" x="1455.6" y="577.6" width="10.8" height="22.0" rx="5"/>
<rect class="w" x="1184.6" y="594.6" width="241.6" height="10.6" stroke-width="3.6" stroke-linejoin="round"/>
<rect class="k" x="1300.8" y="574.0" width="10.2" height="20.0" style="fill:#fff"/>
<rect class="k" x="1156.3" y="596.0" width="14.4" height="262.0"/>
<path class="s" d="M1163,598 L1163,856" stroke-width="2.6" style="stroke:#d0d0d0"/>
<rect class="k" x="1440.0" y="596.0" width="14.6" height="262.0"/>
<path class="s" d="M1447.6,598 L1447.6,856" stroke-width="2.6" style="stroke:#d0d0d0"/>
<rect class="k" x="1454.0" y="601.6" width="5.2" height="125.0" rx="2"/>
<rect class="w" x="1300.4" y="606.0" width="11.2" height="252.0" stroke-width="2.6"/>
<rect class="w" x="1298.4" y="641.0" width="15.2" height="18.0" rx="3" stroke-width="2.6"/>
<rect class="w" x="1298.4" y="662.6" width="15.2" height="18.0" rx="3" stroke-width="2.6"/>
<rect class="k" x="1299.0" y="645.6" width="14.0" height="2.4"/>
<rect class="k" x="1299.0" y="673.6" width="14.0" height="2.4"/>
<rect class="k" x="1301.0" y="657.0" width="10.0" height="7.0"/>
<ellipse class="k" cx="1198.6" cy="848.8" rx="9" ry="9.6"/>
<circle class="k" cx="1197" cy="845.6" r="1.3" style="fill:#fff"/>
<circle class="k" cx="1197" cy="852" r="1.3" style="fill:#fff"/>
<ellipse class="w" cx="1187.4" cy="848.4" rx="6.2" ry="9.6" stroke-width="3.2"/>
<rect class="k" x="1156.3" y="865.0" width="298.3" height="32.0" style="fill:#c3c4c6"/>
<rect class="k" x="1156.3" y="865.0" width="5.0" height="34.0"/>
<rect class="k" x="1449.6" y="865.0" width="5.0" height="34.0"/>
<path class="w" d="M1182.6,899 L1205.4,873.6 L1251,873.6 L1278.5,899" stroke-width="5.8" stroke-linejoin="round"/>
<path class="w" d="M1333.6,899 L1360,873.6 L1405.5,873.6 L1431.8,899" stroke-width="5.8" stroke-linejoin="round"/>
<rect class="k" x="1151.5" y="856.7" width="308.0" height="9.4" rx="4.5"/>
<path class="s" d="M1446,352 Q1442,379 1446,406" stroke-width="3"/>
<rect class="w" x="1455.0" y="351.6" width="12.0" height="55.0" stroke-width="3"/>
<rect class="w" x="1466.6" y="346.8" width="14.4" height="62.6" rx="4" stroke-width="5.4"/>
<rect class="k" x="1470.6" y="350.6" width="7.0" height="3.4" style="fill:#8a8a8a"/>
<rect class="k" x="1470.6" y="403.6" width="7.0" height="3.4" style="fill:#8a8a8a"/>
<rect class="w" x="1472.0" y="356.0" width="4.4" height="45.0" stroke-width="1.6"/>
<path class="s" d="M1483,369.6 L1528.6,369.6 L1528.6,441.4 L1524,441.4" stroke-width="6" stroke-linejoin="round"/>
<path class="s" d="M1455,416.4 L1528,416.4" stroke-width="6"/>
<rect class="w" x="1474.0" y="419.0" width="47.0" height="35.4" stroke-width="6" stroke-linejoin="round"/>
<rect class="w" x="1455.0" y="424.0" width="16.0" height="14.0" stroke-width="3"/>
<rect class="k" x="1571.8" y="876.0" width="33.9" height="22.5"/>
<rect class="k" x="1577.6" y="878.6" width="22.8" height="16.8" style="fill:#c3c4c6"/>
<rect class="k" x="1678.6" y="876.0" width="33.9" height="22.5"/>
<rect class="k" x="1684.6" y="878.6" width="22.6" height="16.8" style="fill:#c3c4c6"/>
<rect class="k" x="1787.6" y="876.0" width="33.8" height="22.5"/>
<rect class="k" x="1793.0" y="878.6" width="22.4" height="16.8" style="fill:#c3c4c6"/>
<rect class="k" x="1571.8" y="869.3" width="249.6" height="8.4"/>
<rect class="k" x="1571.8" y="610.3" width="8.6" height="288.0" rx="1.5"/>
<rect class="k" x="1812.8" y="610.3" width="8.6" height="288.0" rx="1.5"/>
<rect class="k" x="1571.8" y="610.3" width="249.6" height="9.0" rx="2"/>
<path class="k" d="M1580,619 L1580,640 Q1581,620.5 1602,619 Z"/>
<path class="k" d="M1813,619 L1813,640 Q1812,620.5 1791,619 Z"/>
<path class="k" d="M1581.6,626 L1581.6,621 L1586.4,621 Z" style="fill:#fff"/>
<path class="k" d="M1811.4,626 L1811.4,621 L1806.6,621 Z" style="fill:#fff"/>
<path class="s" d="M1602,619 L1602,870 M1790.8,619 L1790.8,870" stroke-width="2.6"/>
<path class="s" d="M1580,640.8 L1813,640.8" stroke-width="2.2"/>
<rect class="k" x="1667.0" y="605.4" width="61.4" height="10.0" rx="2.5"/>
<circle class="k" cx="1678.6" cy="620.6" r="2.4"/>
<circle class="k" cx="1715.7" cy="620.6" r="2.4"/>
<circle class="s" cx="201.8" cy="1340" r="102.5" stroke-width="6.6"/>
<circle class="s" cx="201.6" cy="1340" r="72.5" stroke-width="6.6"/>
<circle class="s" cx="201.6" cy="1340" r="29.5" stroke-width="2.6"/>
<circle class="s" cx="201.6" cy="1340" r="24.6" stroke-width="2.6"/>
<circle class="k" cx="201.4" cy="1340" r="9.3"/>
<path class="dot" d="M214.6,1340 L312,1340" stroke-width="7.2" stroke-dasharray="6.6 6.4"/>
<rect class="s" x="328.2" y="1193.2" width="293.3" height="291.6" stroke-width="6.2" stroke-linejoin="round"/>
<rect class="k" x="365.8" y="1242.0" width="9.8" height="196.0"/>
<rect class="k" x="440.8" y="1199.0" width="18.4" height="279.0"/>
<rect class="k" x="446.2" y="1199.0" width="6.8" height="279.0" style="fill:#c3c4c6"/>
<path class="w" d="M490.6,1206.3 A134.5 134.5 0 0 1 490.6,1473.7 L484.6,1464.7 L484.6,1215.3 Z" stroke-width="4.6" stroke-linejoin="round"/>
<circle class="w" cx="502.8" cy="1232" r="13.8" stroke-width="3"/>
<circle class="w" cx="502.8" cy="1286" r="13.8" stroke-width="3"/>
<circle class="w" cx="502.8" cy="1340" r="13.8" stroke-width="3"/>
<circle class="w" cx="502.8" cy="1393.4" r="13.8" stroke-width="3"/>
<circle class="w" cx="502.8" cy="1446.8" r="13.8" stroke-width="3"/>
<circle class="w" cx="540.7" cy="1259" r="13.8" stroke-width="3"/>
<circle class="w" cx="540.7" cy="1313" r="13.8" stroke-width="3"/>
<circle class="w" cx="540.7" cy="1366.4" r="13.8" stroke-width="3"/>
<circle class="w" cx="540.7" cy="1420" r="13.8" stroke-width="3"/>
<circle class="w" cx="578.7" cy="1286" r="13.8" stroke-width="3"/>
<circle class="w" cx="578.7" cy="1340" r="13.8" stroke-width="3"/>
<circle class="w" cx="578.7" cy="1393.4" r="13.8" stroke-width="3"/>
<circle class="s" cx="391" cy="1340" r="46" stroke-width="2.4" stroke-dasharray="6.8 2.6"/>
<circle class="s" cx="560" cy="1340" r="46" stroke-width="2.4" stroke-dasharray="6.8 2.6"/>
<path class="k" d="M479,1245 L489,1249 L489,1262 L479,1266 Z"/>
<path class="k" d="M481.6,1253 L485.6,1254.6 L485.6,1256.4 L481.6,1258 Z" style="fill:#fff"/>
<path class="k" d="M479,1299 L487,1303 L487,1322 L479,1326 Z"/>
<path class="k" d="M481.6,1307 L483.6,1308.6 L483.6,1316.4 L481.6,1318 Z" style="fill:#fff"/>
<path class="k" d="M479,1355 L487,1359 L487,1378 L479,1382 Z"/>
<path class="k" d="M481.6,1363 L483.6,1364.6 L483.6,1372.4 L481.6,1374 Z" style="fill:#fff"/>
<path class="k" d="M479,1409 L489,1413 L489,1426 L479,1430 Z"/>
<path class="k" d="M481.6,1417 L485.6,1418.6 L485.6,1420.4 L481.6,1422 Z" style="fill:#fff"/>
<circle class="s" cx="476" cy="1340.5" r="147" stroke-width="10.6"/>
<rect class="k" x="471.8" y="1186.0" width="8.2" height="309.0" rx="2"/>
<g transform="translate(476,1340.5) rotate(135)">
<rect class="w" x="146.0" y="-12.0" width="23.0" height="24.0" stroke-width="3.2" stroke-linejoin="round"/>
<rect class="k" x="156.5" y="-6.4" width="5.0" height="4.4"/>
<rect class="k" x="156.5" y="2.0" width="5.0" height="4.4"/>
<rect class="k" x="146.0" y="-14.6" width="8.0" height="29.2"/>
</g>
<g transform="translate(476,1340.5) rotate(45)">
<rect class="w" x="146.0" y="-12.0" width="23.0" height="24.0" stroke-width="3.2" stroke-linejoin="round"/>
<rect class="k" x="156.5" y="-6.4" width="5.0" height="4.4"/>
<rect class="k" x="156.5" y="2.0" width="5.0" height="4.4"/>
<rect class="k" x="146.0" y="-14.6" width="8.0" height="29.2"/>
</g>
<circle class="s" cx="476" cy="1340.5" r="147" stroke-width="10.6"/>
<path class="k" d="M310,1335 L315,1330 L324,1330 L324,1350 L315,1350 L310,1345 Z"/>
<rect class="k" x="313.4" y="1336.4" width="2.2" height="2.4" style="fill:#b9b9b9"/>
<rect class="k" x="313.4" y="1341.6" width="2.2" height="2.4" style="fill:#b9b9b9"/>
<rect class="k" x="317.6" y="1336.4" width="2.2" height="2.4" style="fill:#b9b9b9"/>
<rect class="k" x="317.6" y="1341.6" width="2.2" height="2.4" style="fill:#b9b9b9"/>
<rect class="k" x="330.0" y="1332.9" width="31.8" height="14.2" rx="7.1"/>
<circle class="k" cx="354.2" cy="1340" r="3.7" style="fill:#fff"/>
<rect class="k" x="334.0" y="1338.6" width="2.6" height="3.0" style="fill:#c8c8c8"/>
<rect class="k" x="339.6" y="1338.6" width="2.6" height="3.0" style="fill:#c8c8c8"/>
<rect class="k" x="346.4" y="1338.6" width="2.6" height="3.0" style="fill:#c8c8c8"/>
<g transform="translate(595,1221) rotate(-40.6)">
<rect class="k" x="-19.0" y="-7.0" width="26.0" height="14.0" rx="2.5"/>
<rect class="k" x="4.0" y="-2.4" width="15.6" height="4.8" rx="1.2"/>
<rect class="k" x="2.0" y="-7.4" width="13.0" height="3.8" rx="1.2"/>
<rect class="k" x="4.0" y="3.6" width="13.0" height="3.8" rx="1.2"/>
<path class="s" d="M-2,-3.4 L1.4,-3.4 M-2,3.4 L1.4,3.4" stroke-width="1.1" style="stroke:#9a9a9a"/>
</g>
<path class="dot" d="M609,1208 Q614,1205.9 622,1205.9 L742,1205.9 Q750,1205.9 755.6,1209"/>
<rect class="s" x="744.0" y="1193.2" width="292.6" height="292.4" stroke-width="6.2" stroke-linejoin="round"/>
<circle class="s" cx="889.8" cy="1339.6" r="146.4" stroke-width="11"/>
<circle class="s" cx="890.2" cy="1339.8" r="65.8" stroke-width="2.4" stroke-dasharray="6.8 2.6"/>
<rect class="k" x="785.0" y="1261.0" width="211.0" height="7.0" rx="1.5"/>
<rect class="k" x="787.0" y="1263.2" width="207.0" height="2.4" style="fill:#77787a"/>
<rect class="k" x="785.0" y="1411.8" width="211.0" height="7.0" rx="1.5"/>
<rect class="k" x="787.0" y="1414.0" width="207.0" height="2.4" style="fill:#77787a"/>
<path class="s" d="M1006,1222 L956.4,1278.4 L1012.6,1339.8" stroke-width="9" stroke-linejoin="round"/>
<path class="s" d="M1006,1222 L956.4,1278.4 L1012.6,1339.8" stroke-width="3.6" stroke-linejoin="round" style="stroke:#fff"/>
<path class="s" d="M993,1236.6 L958,1276.4 L1009,1332" stroke-width="1.2"/>
<circle class="k" cx="956" cy="1278.6" r="6.6"/>
<circle class="w" cx="1013" cy="1339.8" r="12.4" stroke-width="3.2"/>
<circle class="k" cx="1014.4" cy="1340" r="6"/>
<rect class="w" x="1025.0" y="1334.6" width="8.0" height="10.4" stroke-width="2.4"/>
<path class="s" d="M1006,1222 L956.4,1278.4 L1012.6,1339.8" stroke-width="9" stroke-linejoin="round" stroke-dasharray="0 1000"/>
<g transform="translate(775,1225) rotate(42)">
<rect class="k" x="-17.0" y="-6.6" width="30.0" height="13.2" rx="2.5"/>
<rect class="k" x="-28.0" y="-2.3" width="14.0" height="4.6" rx="1.2"/>
<rect class="k" x="-25.0" y="-7.2" width="12.0" height="3.8" rx="1.2"/>
<rect class="k" x="-26.0" y="3.4" width="12.0" height="3.8" rx="1.2"/>
<path class="s" d="M-10,-3.4 L-6.6,-3.4 M-10,3.4 L-6.6,3.4" stroke-width="1.1" style="stroke:#9a9a9a"/>
<rect class="k" x="12.0" y="-6.5" width="31.0" height="13.0" rx="6.5"/>
<circle class="k" cx="35.6" cy="0" r="2" style="fill:#fff"/>
<circle class="k" cx="25" cy="0" r="1.7" style="fill:#fff"/>
</g>
<g transform="translate(1004,1224) rotate(-48)">
<rect class="k" x="-10.0" y="-5.0" width="24.0" height="10.0" rx="3"/>
<circle class="k" cx="14" cy="-3" r="4.4"/>
<circle class="k" cx="14" cy="3.6" r="4.4"/>
<circle class="k" cx="5" cy="-4" r="3.6"/>
<circle class="k" cx="5" cy="4" r="3.6"/>
<circle class="k" cx="8" cy="0" r="1.5" style="fill:#fff"/>
<circle class="k" cx="15" cy="0" r="1.5" style="fill:#fff"/>
</g>
<path class="dot" d="M1019,1210.6 L1030,1209 Q1042,1209 1048.6,1219 L1084,1275 Q1093.6,1290 1109,1292.6 L1128,1294.6"/>
<rect class="s" x="1159.8" y="1194.2" width="291.8" height="291.8" stroke-width="6.2" stroke-linejoin="round"/>
<rect class="w" x="1454.0" y="1293.4" width="73.6" height="92.4" stroke-width="5" stroke-linejoin="round"/>
<circle class="w" cx="1305.6" cy="1339.4" r="160" stroke-width="2.8"/>
<circle class="k" cx="1448.2" cy="1398.5" r="2.9"/>
<circle class="k" cx="1364.7" cy="1482.0" r="2.9"/>
<circle class="k" cx="1246.5" cy="1482.0" r="2.9"/>
<circle class="k" cx="1163.0" cy="1398.5" r="2.9"/>
<circle class="k" cx="1163.0" cy="1280.3" r="2.9"/>
<circle class="k" cx="1246.5" cy="1196.8" r="2.9"/>
<circle class="k" cx="1364.7" cy="1196.8" r="2.9"/>
<circle class="k" cx="1448.2" cy="1280.3" r="2.9"/>
<circle class="k" cx="1151.2" cy="1339.4" r="2.9"/>
<rect class="w" x="1301.0" y="1166.8" width="9.2" height="25.0" rx="1.5" stroke-width="2.6"/>
<rect class="w" x="1301.0" y="1487.4" width="9.2" height="25.0" rx="1.5" stroke-width="2.6"/>
<g transform="translate(1305.6,1339.4) rotate(135)">
<rect class="k" x="157.0" y="-12.5" width="15.0" height="25.0"/>
<rect class="k" x="162.4" y="-7.0" width="6.6" height="3.8" style="fill:#fff"/>
<rect class="k" x="162.4" y="2.0" width="6.6" height="3.8" style="fill:#fff"/>
</g>
<g transform="translate(1311.7,1337.6) rotate(152.5)">
<rect class="w" x="150.0" y="-6.0" width="18.0" height="12.0" stroke-width="2.6"/>
<rect class="k" x="156.0" y="-6.6" width="3.0" height="13.2"/>
<rect class="k" x="161.6" y="-6.6" width="3.0" height="13.2"/>
<path class="s" d="M171,8 L171,24 Q171,31 178,31 Q185,31 185,24 L185,8" stroke-width="10.4" stroke-linecap="butt"/>
<path class="s" d="M171,7 L171,24 Q171,31 178,31 Q185,31 185,24 L185,7" stroke-width="3.2" style="stroke:#fff"/>
<circle class="w" cx="176" cy="0" r="8.6" stroke-width="4"/>
<rect class="w" x="183.0" y="-4.4" width="14.0" height="8.8" stroke-width="2.6"/>
<rect class="w" x="188.0" y="-7.0" width="4.0" height="14.0" rx="1.5" stroke-width="2"/>
<rect class="w" x="197.0" y="-14.5" width="8.0" height="29.0" rx="2" stroke-width="2.8"/>
<path class="s" d="M197,-6 L205,-6 M197,0 L205,0 M197,6 L205,6" stroke-width="1.6"/>
<path class="s" d="M42,-4.6 L152,-4.6 M42,4.6 L152,4.6" stroke-width="2.9"/>
<rect class="w" x="0.0" y="-5.2" width="18.0" height="10.4" rx="5.2" stroke-width="2.8"/>
<path class="s" d="M10,-5 L10,5 M12.6,-5 L12.6,5" stroke-width="1"/>
<rect class="w" x="17.0" y="-2.6" width="10.0" height="5.2" stroke-width="2.4"/>
<rect class="w" x="26.0" y="-5.8" width="17.0" height="11.6" stroke-width="2.6"/>
<rect class="k" x="30.0" y="-6.0" width="3.2" height="12.0"/>
<rect class="k" x="36.0" y="-6.0" width="3.2" height="12.0"/>
<rect class="k" x="53.4" y="-8.4" width="7.2" height="7.2" rx="2.4"/>
<rect class="k" x="53.4" y="1.2" width="7.2" height="7.2" rx="2.4"/>
<rect class="k" x="114.4" y="-8.4" width="7.2" height="7.2" rx="2.4"/>
<rect class="k" x="114.4" y="1.2" width="7.2" height="7.2" rx="2.4"/>
</g>
<circle class="s" cx="1305.6" cy="1339.4" r="145" stroke-width="10"/>
<g transform="translate(1305.6,1339.4) rotate(45)">
<rect class="k" x="138.0" y="-17.0" width="13.6" height="34.0" rx="1.5"/>
<rect class="k" x="148.0" y="-17.0" width="7.4" height="5.6" rx="2"/>
<rect class="k" x="148.0" y="11.4" width="7.4" height="5.6" rx="2"/>
<rect class="k" x="149.0" y="-2.4" width="4.6" height="4.8" rx="2"/>
<rect class="k" x="122.0" y="-15.2" width="19.0" height="5.5" rx="2.7"/>
<rect class="k" x="122.0" y="9.7" width="19.0" height="5.5" rx="2.7"/>
</g>
<g transform="translate(1305.6,1339.4) rotate(135)">
<rect class="k" x="138.0" y="-17.0" width="13.6" height="34.0" rx="1.5"/>
<rect class="k" x="148.0" y="-17.0" width="7.4" height="5.6" rx="2"/>
<rect class="k" x="148.0" y="11.4" width="7.4" height="5.6" rx="2"/>
<rect class="k" x="149.0" y="-2.4" width="4.6" height="4.8" rx="2"/>
<rect class="k" x="122.0" y="-15.2" width="19.0" height="5.5" rx="2.7"/>
<rect class="k" x="122.0" y="9.7" width="19.0" height="5.5" rx="2.7"/>
</g>
<g transform="translate(1305.6,1339.4) rotate(225)">
<rect class="k" x="138.0" y="-17.0" width="13.6" height="34.0" rx="1.5"/>
<rect class="k" x="148.0" y="-17.0" width="7.4" height="5.6" rx="2"/>
<rect class="k" x="148.0" y="11.4" width="7.4" height="5.6" rx="2"/>
<rect class="k" x="149.0" y="-2.4" width="4.6" height="4.8" rx="2"/>
<rect class="k" x="122.0" y="-15.2" width="19.0" height="5.5" rx="2.7"/>
<rect class="k" x="122.0" y="9.7" width="19.0" height="5.5" rx="2.7"/>
</g>
<g transform="translate(1305.6,1339.4) rotate(315)">
<rect class="k" x="138.0" y="-17.0" width="13.6" height="34.0" rx="1.5"/>
<rect class="k" x="148.0" y="-17.0" width="7.4" height="5.6" rx="2"/>
<rect class="k" x="148.0" y="11.4" width="7.4" height="5.6" rx="2"/>
<rect class="k" x="149.0" y="-2.4" width="4.6" height="4.8" rx="2"/>
<rect class="k" x="122.0" y="-15.2" width="19.0" height="5.5" rx="2.7"/>
<rect class="k" x="122.0" y="9.7" width="19.0" height="5.5" rx="2.7"/>
</g>
<circle class="s" cx="1305.6" cy="1407.5" r="47.3" stroke-width="2.4" stroke-dasharray="6.8 2.6"/>
<circle class="w" cx="1499" cy="1340.5" r="21.8" stroke-width="3.2"/>
<rect class="k" x="1465.6" y="1303.0" width="15.2" height="70.0" rx="3"/>
<rect class="k" x="1468.4" y="1299.4" width="9.6" height="6.0" rx="1.5"/>
<rect class="k" x="1470.6" y="1313.0" width="6.6" height="4.0" style="fill:#fff"/>
<rect class="k" x="1470.6" y="1322.4" width="6.6" height="4.0" style="fill:#fff"/>
<rect class="k" x="1470.6" y="1331.8" width="6.6" height="4.0" style="fill:#fff"/>
<rect class="k" x="1470.6" y="1341.2" width="6.6" height="4.0" style="fill:#fff"/>
<rect class="k" x="1470.6" y="1350.6" width="6.6" height="4.0" style="fill:#fff"/>
<rect class="k" x="1470.6" y="1360.0" width="6.6" height="4.0" style="fill:#fff"/>
<path class="s" d="M1457,1311 L1463.4,1311 L1463.4,1364 L1457,1364" stroke-width="1.8"/>
<rect class="k" x="1137.0" y="1288.4" width="17.0" height="13.0" rx="2.5"/>
<rect class="k" x="1142.4" y="1294.0" width="7.4" height="2.2" style="fill:#fff"/>
<circle class="w" cx="1132.6" cy="1290.8" r="3.1" stroke-width="3"/>
<circle class="w" cx="1132.6" cy="1299.2" r="3.1" stroke-width="3"/>
<rect class="k" x="1128.6" y="1292.4" width="10.0" height="5.2"/>
<rect class="k" x="1571.3" y="1190.6" width="250.5" height="299.2" rx="2"/>
<rect class="k" x="1580.0" y="1199.6" width="232.6" height="281.0" rx="19" style="fill:#fff"/>
<path class="k" d="M1580,1199.6 L1586,1199.6 L1580,1205.6 Z" style="fill:#fff"/>
<path class="s" d="M1581.2,1207.1 L1587.5,1200.8" stroke-width="1.4"/>
<path class="k" d="M1812.6,1199.6 L1806.6,1199.6 L1812.6,1205.6 Z" style="fill:#fff"/>
<path class="s" d="M1811.3999999999999,1207.1 L1805.1,1200.8" stroke-width="1.4"/>
<path class="k" d="M1580,1480.6 L1586,1480.6 L1580,1474.6 Z" style="fill:#fff"/>
<path class="s" d="M1581.2,1473.1 L1587.5,1479.3999999999999" stroke-width="1.4"/>
<path class="k" d="M1812.6,1480.6 L1806.6,1480.6 L1812.6,1474.6 Z" style="fill:#fff"/>
<path class="s" d="M1811.3999999999999,1473.1 L1805.1,1479.3999999999999" stroke-width="1.4"/>
<rect class="k" x="1601.5" y="1199.0" width="5.5" height="282.0"/>
<path class="s" d="M1604.2,1200 L1604.2,1480" stroke-width="1.1" style="stroke:#a8a8a8"/>
<rect class="k" x="1655.0" y="1199.0" width="6.0" height="282.0"/>
<path class="s" d="M1658.0,1200 L1658.0,1480" stroke-width="1.1" style="stroke:#a8a8a8"/>
<rect class="k" x="1732.0" y="1199.0" width="6.3" height="282.0"/>
<path class="s" d="M1735.2,1200 L1735.2,1480" stroke-width="1.1" style="stroke:#a8a8a8"/>
<rect class="k" x="1785.6" y="1199.0" width="6.4" height="282.0"/>
<path class="s" d="M1788.8,1200 L1788.8,1480" stroke-width="1.1" style="stroke:#a8a8a8"/>
<path class="s" d="M1580,1222 L1812.6,1222 M1580,1459 L1812.6,1459" stroke-width="2.4"/>
<circle class="w" cx="1696.3" cy="1339.8" r="25.8" stroke-width="10.6"/>
<path class="dot" d="M1474,1303.8 L1636,1303.8 Q1652,1303.8 1663,1313 L1690,1335"/>
<path class="s" d="M1690,1335 L1697.6,1341" stroke-width="6.4" stroke-linecap="round"/>
<rect class="k" x="1688.0" y="1489.0" width="17.0" height="7.6" rx="2"/>
<rect class="k" x="1692.6" y="1490.6" width="7.6" height="3.0" style="fill:#fff"/>
<path class="s" d="M38,899 L119,899" stroke-width="5.5" stroke-linecap="round"/>
<path class="s" d="M286,899 L1853,899" stroke-width="5.5" stroke-linecap="round"/>
</svg>
</body></html>
